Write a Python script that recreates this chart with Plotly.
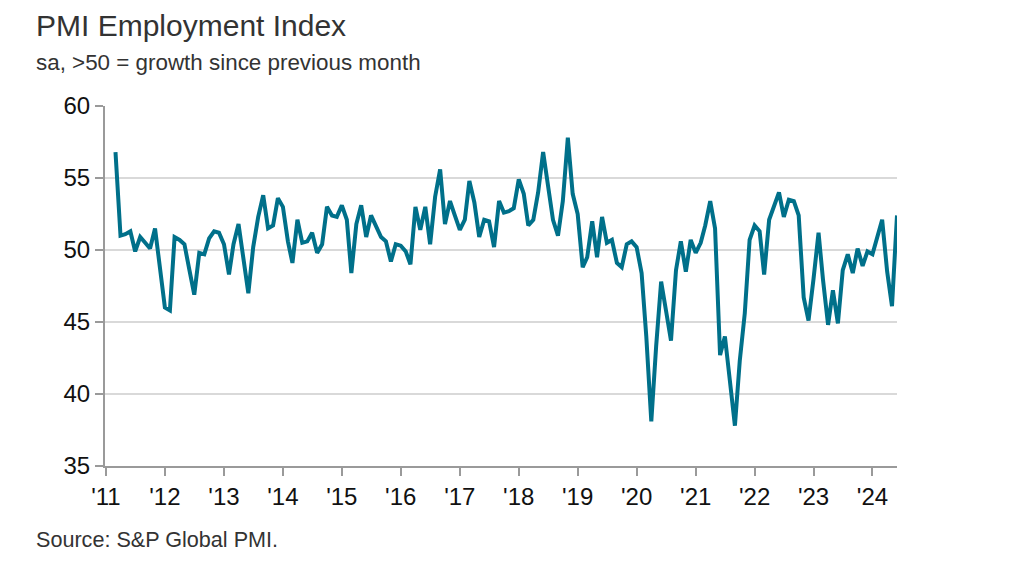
import pandas as pd
import plotly.graph_objects as go

# monthly PMI employment readings, Mar 2011 - Jun 2024
y2011 = [56.8, 51.0, 51.1, 51.3, 49.9, 50.9, 50.5, 50.1, 51.5, 48.9]
y2012 = [46.0, 45.8, 50.9, 50.7, 50.4, 48.6, 46.9, 49.8, 49.7, 50.8, 51.3, 51.2]
y2013 = [50.4, 48.3, 50.4, 51.8, 49.5, 47.0, 50.2, 52.3, 53.8, 51.5, 51.7, 53.6]
y2014 = [53.0, 50.6, 49.1, 52.1, 50.5, 50.6, 51.2, 49.8, 50.4, 53.0, 52.4, 52.3]
y2015 = [53.1, 52.1, 48.4, 51.8, 53.1, 50.9, 52.4, 51.7, 50.9, 50.6, 49.2, 50.4]
y2016 = [50.3, 49.9, 49.0, 53.0, 51.4, 53.0, 50.4, 53.7, 55.6, 51.8, 53.4, 52.4]
y2017 = [51.4, 52.1, 54.8, 53.3, 50.9, 52.1, 52.0, 50.2, 53.4, 52.6, 52.7, 52.9]
y2018 = [54.9, 53.9, 51.7, 52.1, 54.0, 56.8, 54.6, 52.1, 51.0, 53.4, 57.8, 53.9]
y2019 = [52.5, 48.8, 49.5, 52.0, 49.5, 52.3, 50.5, 50.7, 49.1, 48.8, 50.4, 50.6]
y2020 = [50.2, 48.4, 44.0, 38.1, 43.3, 47.8, 45.8, 43.7, 48.6, 50.6, 48.5, 50.7]
y2021 = [49.8, 50.5, 51.7, 53.4, 51.5, 42.7, 44.0, 41.0, 37.8, 42.3, 45.6, 50.7]
y2022 = [51.7, 51.3, 48.3, 52.1, 53.0, 54.0, 52.3, 53.5, 53.4, 52.4, 46.7, 45.1]
y2023 = [48.0, 51.2, 47.9, 44.8, 47.2, 44.9, 48.6, 49.7, 48.4, 50.1, 48.9, 49.9]
y2024 = [49.7, 50.9, 52.1, 48.5, 46.1, 52.4]

values = (y2011 + y2012 + y2013 + y2014 + y2015 + y2016 + y2017
          + y2018 + y2019 + y2020 + y2021 + y2022 + y2023 + y2024)
dates = pd.date_range("2011-03-01", periods=len(values), freq="MS")

tick_years = list(range(2011, 2025))
tick_labels = ["'" + str(y)[2:] for y in tick_years]

# page body adds an 8px margin, so margins are shifted to compensate
L, R, T, B = 97, 135, 98, 109
W, H = 1024, 567

fig = go.Figure()
fig.add_trace(go.Scatter(x=dates, y=values, mode="lines",
                         line=dict(color="#00708a", width=4),
                         cliponaxis=False, showlegend=False))

fig.update_xaxes(
    range=["2010-12-26", "2024-06-01"],
    tickvals=[pd.Timestamp(year=y, month=1, day=1) for y in tick_years],
    ticktext=tick_labels,
    showgrid=False, showline=True, linecolor="#9a9a9a", linewidth=2,
    ticks="outside", ticklen=8, tickwidth=2, tickcolor="#9a9a9a",
    tickfont=dict(family="Liberation Sans, Arial", size=24, color="#111"),
)
fig.update_yaxes(
    range=[35, 60], dtick=5,
    showgrid=True, gridcolor="#d9d9d9", gridwidth=2,
    showline=True, linecolor="#9a9a9a", linewidth=2,
    ticks="outside", ticklen=8, tickwidth=2, tickcolor="#9a9a9a",
    tickfont=dict(family="Liberation Sans, Arial", size=24, color="#111"),
    zeroline=False,
)

# header/footer texts: (text, left px, baseline px, font size)
texts = [
    ("PMI Employment Index", 26, 29, 30),
    ("sa, >50 = growth since previous month", 26, 64, 22.4),
    ("Source: S&P Global PMI.", 26, 541, 21.6),
]
pw, ph = W - L - R, H - T - B
annotations = []
for text, px, py, size in texts:
    annotations.append(dict(
        text=text, showarrow=False, xref="paper", yref="paper",
        x=(px - L) / pw, y=(H - B - py) / ph,
        xanchor="left", yanchor="bottom", yshift=-size * 0.22,
        font=dict(family="Liberation Sans, Arial", size=size, color="#333"),
    ))

fig.update_layout(
    width=W, height=H,
    margin=dict(l=L, r=R, t=T, b=B),
    plot_bgcolor="white", paper_bgcolor="white",
    annotations=annotations,
)

fig.write_html("out.html")
